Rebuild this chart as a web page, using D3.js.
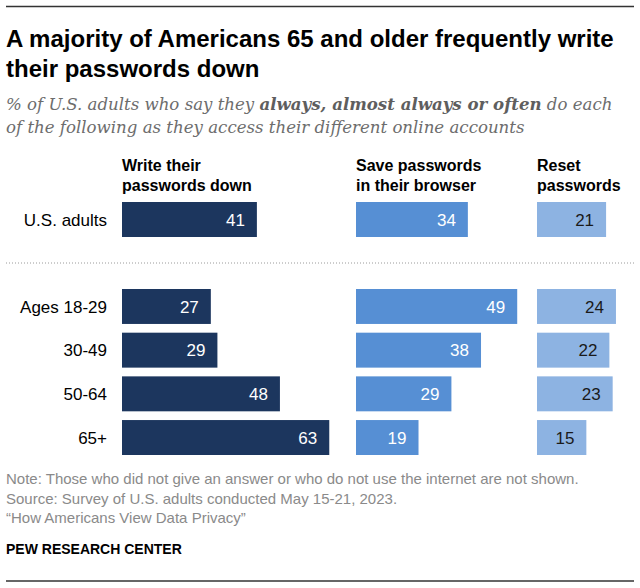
<!DOCTYPE html>
<html>
<head>
<meta charset="utf-8">
<script src="https://cdn.jsdelivr.net/npm/d3@7"></script>
<style>
  body { margin: 0; background: #fff; }
  text { font-family: "Liberation Sans", Arial, sans-serif; }
  .title { font-size: 24px; font-weight: bold; fill: #000; }
  .sub { font-family: "DejaVu Serif", Georgia, serif; font-style: italic; font-size: 16.6px; fill: #6d6d6d; }
  .head { font-size: 16px; font-weight: bold; fill: #000; }
  .rowlab { font-size: 17px; fill: #000; }
  .val { font-size: 17px; }
  .foot { font-size: 15px; fill: #8a8a8a; }
</style>
</head>
<body>
<script>
//data
var columns = ["Write their passwords down", "Save passwords in their browser", "Reset passwords"];
var headLines = [["Write their", "passwords down"], ["Save passwords", "in their browser"], ["Reset", "passwords"]];
var totalLabel = "U.S. adults";
var totalValues = [41, 34, 21];
var ages = ["Ages 18-29", "30-49", "50-64", "65+"];
var writeDown = [27, 29, 48, 63];
var saveBrowser = [49, 38, 29, 19];
var resetPw = [24, 22, 23, 15];

var colors = ["#1c365e", "#568fd4", "#8db3e2"];
var labelColors = ["#fff", "#fff", "#1a1a1a"];

//frame
var width = 640,
    height = 588;

var svg = d3.select("body")
    .append("svg")
    .attr("width", width)
    .attr("height", height);

//top and bottom rules
svg.append("line")
    .attr("x1", 6).attr("x2", 634)
    .attr("y1", 6.5).attr("y2", 6.5)
    .attr("stroke", "#333").attr("stroke-width", 1.3);
svg.append("line")
    .attr("x1", 6).attr("x2", 634)
    .attr("y1", 581).attr("y2", 581)
    .attr("stroke", "#333").attr("stroke-width", 1.3);

//title
svg.append("text").attr("class", "title").attr("x", 6).attr("y", 47)
    .text("A majority of Americans 65 and older frequently write");
svg.append("text").attr("class", "title").attr("x", 6).attr("y", 77)
    .text("their passwords down");

//subtitle
var sub1 = svg.append("text").attr("class", "sub").attr("x", 6).attr("y", 110);
sub1.append("tspan").text("% of U.S. adults who say they ");
sub1.append("tspan").attr("font-weight", "bold").attr("fill", "#5e5e5e").text("always, almost always or often");
sub1.append("tspan").text(" do each");
svg.append("text").attr("class", "sub").attr("x", 6).attr("y", 133)
    .text("of the following as they access their different online accounts");

//scales
var x = d3.scaleLinear()
    .domain([0, 100])
    .range([0, 329]);

var colX = d3.scaleOrdinal()
    .domain(columns)
    .range([122, 356, 537]);

var yTotal = d3.scaleBand()
    .domain([totalLabel])
    .range([202, 237]);

var yAge = d3.scaleBand()
    .domain(ages)
    .range([289, 455])
    .paddingInner(0.2)
    .paddingOuter(0);

//column headers
columns.forEach(function(c, i){
    var t = svg.append("text").attr("class", "head")
        .attr("x", colX(c)).attr("y", 171);
    t.append("tspan").attr("x", colX(c)).text(headLines[i][0]);
    t.append("tspan").attr("x", colX(c)).attr("dy", 20).text(headLines[i][1]);
});

//build row records
var rows = [];
columns.forEach(function(c, i){
    rows.push({row: totalLabel, col: c, ci: i, value: totalValues[i], y: yTotal(totalLabel), h: yTotal.bandwidth()});
});
var ageSeries = [writeDown, saveBrowser, resetPw];
ages.forEach(function(a, j){
    columns.forEach(function(c, i){
        rows.push({row: a, col: c, ci: i, value: ageSeries[i][j], y: yAge(a), h: yAge.bandwidth()});
    });
});

//row labels
svg.selectAll(".rowlab")
    .data([totalLabel].concat(ages))
    .enter()
    .append("text")
    .attr("class", "rowlab")
    .attr("x", 107)
    .attr("y", function(d){
        return d == totalLabel ? yTotal(d) + yTotal.bandwidth() / 2 : yAge(d) + yAge.bandwidth() / 2;
    })
    .attr("dy", "0.36em")
    .attr("text-anchor", "end")
    .text(function(d){ return d; });

//bars
svg.selectAll(".bar")
    .data(rows)
    .enter()
    .append("rect")
    .attr("class", "bar")
    .attr("x", function(d){ return colX(d.col); })
    .attr("y", function(d){ return d.y; })
    .attr("width", function(d){ return x(d.value); })
    .attr("height", function(d){ return d.h; })
    .attr("fill", function(d){ return colors[d.ci]; });

//value labels
svg.selectAll(".val")
    .data(rows)
    .enter()
    .append("text")
    .attr("class", "val")
    .attr("x", function(d){ return colX(d.col) + x(d.value) - 12; })
    .attr("y", function(d){ return d.y + d.h / 2; })
    .attr("dy", "0.36em")
    .attr("text-anchor", "end")
    .attr("fill", function(d){ return labelColors[d.ci]; })
    .text(function(d){ return d.value; });

//dotted separator
svg.append("line")
    .attr("x1", 6).attr("x2", 634)
    .attr("y1", 263).attr("y2", 263)
    .attr("stroke", "#9a9a9a")
    .attr("stroke-width", 1)
    .attr("stroke-dasharray", "1,2");

//footer
var foot = ["Note: Those who did not give an answer or who do not use the internet are not shown.",
    "Source: Survey of U.S. adults conducted May 15-21, 2023.",
    "\u201cHow Americans View Data Privacy\u201d"];
svg.selectAll(".foot")
    .data(foot)
    .enter()
    .append("text")
    .attr("class", "foot")
    .attr("x", 6)
    .attr("y", function(d, i){ return 484 + i * 19.5; })
    .text(function(d){ return d; });

svg.append("text")
    .attr("x", 6).attr("y", 554)
    .attr("font-size", "14px")
    .attr("font-weight", "bold")
    .attr("fill", "#000")
    .text("PEW RESEARCH CENTER");
</script>
</body>
</html>
